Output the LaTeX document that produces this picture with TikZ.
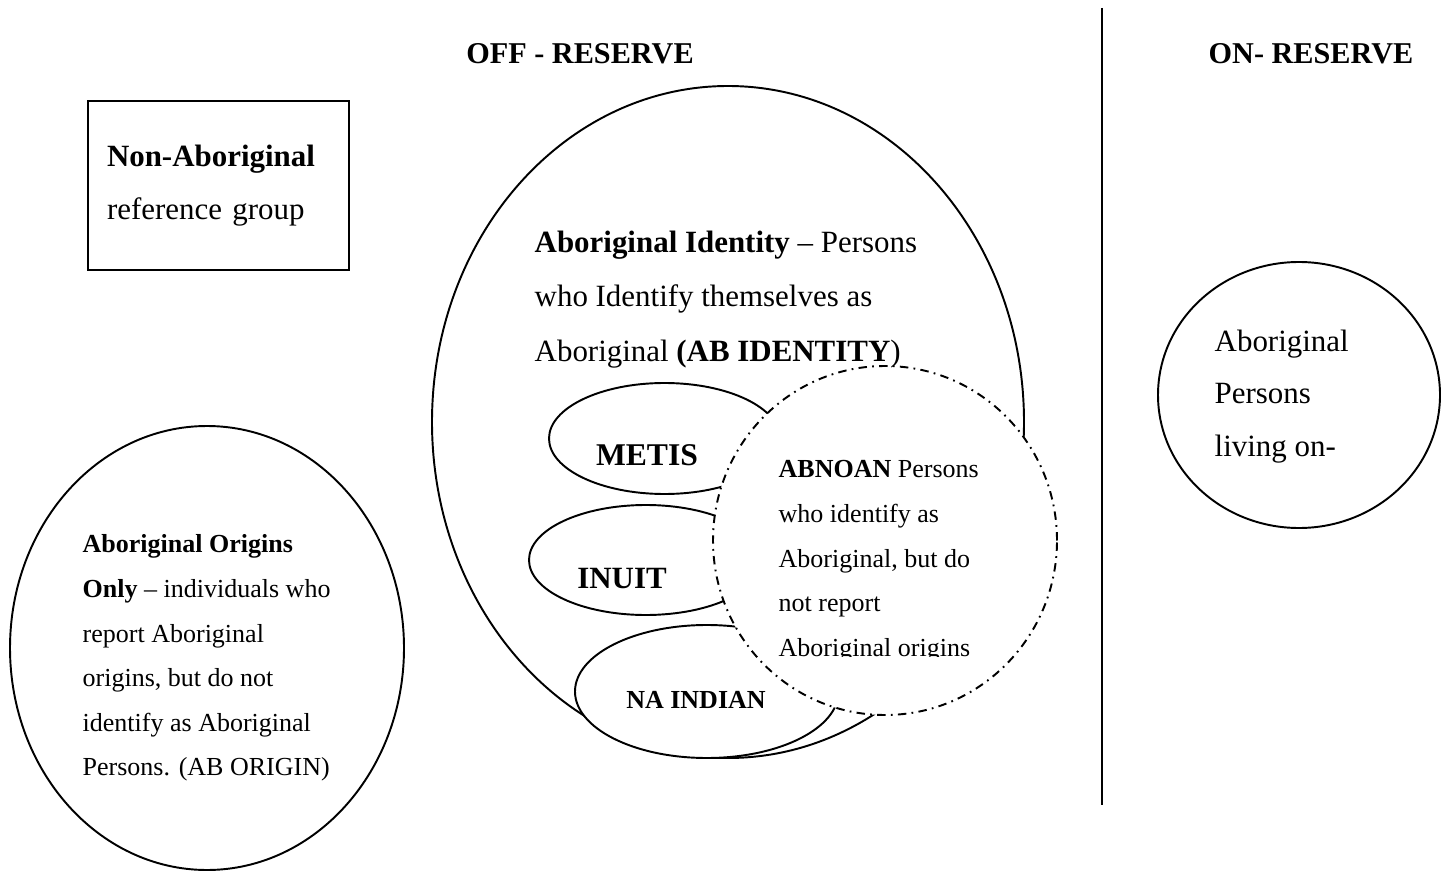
\documentclass[tikz,border=0pt]{standalone}
\usepackage{fontspec}
\setmainfont{Liberation Serif}
\usetikzlibrary{shapes.geometric}
\tikzset{
  shape line/.style={draw=black, line width=0.55pt},
  oval/.style={shape line, ellipse, inner sep=0pt, fill=white},
  dashdot oval/.style={ellipse, inner sep=0pt, fill=white, draw=black, line width=0.55pt,
    dash pattern=on 2.4pt off 1.5pt on 0.5pt off 1.5pt},
  body/.style={font=\fontsize{8.8}{15.5}\selectfont, align=left, inner sep=0pt, anchor=north west},
  small/.style={font=\fontsize{7.4}{12.7}\selectfont, align=left, inner sep=0pt, anchor=north west},
  heading/.style={font=\bfseries\fontsize{8.6}{10}\selectfont, inner sep=0pt, anchor=base},
  group label/.style={font=\bfseries\fontsize{8.8}{10}\selectfont, inner sep=0pt, anchor=base},
}
\begin{document}
\begin{tikzpicture}
\useasboundingbox (0,0) rectangle (14.49,-8.72);
% shapes
\node[oval, minimum width=5.92cm, minimum height=6.72cm] (idell) at (7.28,-4.22) {};
\node[oval, minimum width=3.94cm, minimum height=4.44cm] (origell) at (2.07,-6.48) {};
\node[oval, minimum width=2.82cm, minimum height=2.66cm] (onell) at (12.99,-3.95) {};
\node[shape line, rectangle, minimum width=2.61cm, minimum height=1.69cm, text width=2.23cm,
  align=left, inner xsep=0.19cm, inner ysep=0pt, font=\fontsize{8.8}{15.2}\selectfont]
  (nonab) at (2.185,-1.855) {\textbf{Non-Aboriginal}\\reference group};
\node[oval, minimum width=2.31cm, minimum height=1.11cm] (metisell) at (6.645,-4.385) {};
\node[oval, minimum width=2.336cm, minimum height=1.10cm] (inuitell) at (6.458,-5.60) {};
\node[oval, minimum width=2.636cm, minimum height=1.33cm] (naell) at (7.068,-6.915) {};
\node[dashdot oval, minimum width=3.44cm, minimum height=3.49cm] (abnoanell) at (8.85,-5.405) {};
% divider
\coordinate (vtop) at (11.02,-0.08);
\coordinate (vbot) at (11.02,-8.05);
\draw[line width=0.6pt] (vtop) -- (vbot);
% headings
\node[heading] (offres) at (5.80,-0.64) {OFF - RESERVE};
\node[heading] (onres) at (13.11,-0.64) {ON- RESERVE};
% texts
\node[body] (idtxt) at (5.34,-2.30) {\textbf{Aboriginal Identity} – Persons\\who Identify themselves as\\Aboriginal \textbf{(AB IDENTITY})};
\node[small] (origtxt) at (0.82,-5.34) {\textbf{Aboriginal Origins}\\\textbf{Only} – individuals who\\report Aboriginal\\origins, but do not\\identify as Aboriginal\\Persons. (AB ORIGIN)};
\node[body, font=\fontsize{8.8}{15}\selectfont] (ontxt) at (12.14,-3.29) {Aboriginal\\Persons\\living on-};
\node[group label, font=\bfseries\fontsize{9}{10}\selectfont] (metistxt) at (6.47,-4.65) {METIS};
\node[group label] (inuittxt) at (6.22,-5.88) {INUIT};
\node[group label, font=\bfseries\fontsize{7.4}{9}\selectfont] (natxt) at (6.96,-7.08) {NA INDIAN};
\begin{scope}
\clip (7.0,-4.4) rectangle (10.4,-6.56);
\node[small] (abnoantxt) at (7.78,-4.60) {\textbf{ABNOAN} Persons\\who identify as\\Aboriginal, but do\\not report\\Aboriginal origins};
\end{scope}
\end{tikzpicture}
\end{document}
